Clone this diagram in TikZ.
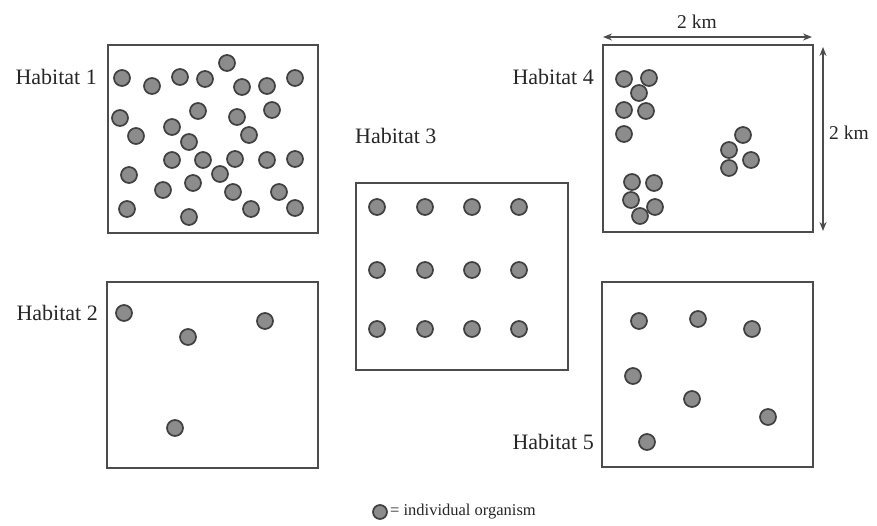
\documentclass[tikz,border=0pt]{standalone}
\usepackage{fontspec}
\setmainfont{Liberation Serif}
\usetikzlibrary{arrows.meta}
\begin{document}
\begin{tikzpicture}[x=1pt,y=-1pt,
  habbox/.style={draw=black!70,line width=2pt},
  dot/.style={circle,draw=black!75,fill=black!45,line width=1.7pt,minimum size=16pt,inner sep=0pt},
  lbl/.style={font=\fontsize{22}{26}\selectfont,text=black!85,inner sep=0pt},
  small/.style={font=\fontsize{16.5}{19}\selectfont,text=black!85,inner sep=0pt},
  dim/.style={draw=black!70,line width=1.3pt,{Stealth[length=9pt,width=7pt]}-{Stealth[length=9pt,width=7pt]}}]
\useasboundingbox (0,0) rectangle (877,526);
% boxes
\draw[habbox] (108,45) rectangle (318,233);
\draw[habbox] (107,282) rectangle (318,468);
\draw[habbox] (356,183) rectangle (568,370);
\draw[habbox] (603,45) rectangle (813,232);
\draw[habbox] (602,282) rectangle (813,467);
% labels
\node[lbl,anchor=east] (l1) at (97,77) {Habitat 1};
\node[lbl,anchor=east] (l2) at (98,313) {Habitat 2};
\node[lbl,anchor=west] (l3) at (355,136) {Habitat 3};
\node[lbl,anchor=east] (l4) at (594,77) {Habitat 4};
\node[lbl,anchor=east] (l5) at (594,442) {Habitat 5};
% habitat 1 dots
\foreach \p [count=\i] in {(122,78),(152,86),(180,77),(205,79),(227,63),(242,87),(267,86),(295,78),
  (120,118),(198,111),(237,117),(272,110),(136,136),(172,127),(249,135),(189,142),
  (172,160),(203,160),(235,159),(267,160),(295,159),(129,175),(220,174),(193,183),
  (163,190),(233,192),(279,192),(127,209),(251,209),(295,208),(189,217)}
  \node[dot] (a\i) at \p {};
% habitat 2 dots
\foreach \p [count=\i] in {(124,313),(188,337),(265,321),(175,428)}
  \node[dot] (b\i) at \p {};
% habitat 3 dots
\foreach \y [count=\j] in {207,270,329}
  \foreach \x [count=\i] in {377,425,472,519}
    \node[dot] (c\j\i) at (\x,\y) {};
% habitat 4 dots
\foreach \p [count=\i] in {(624,79),(649,78),(639,93),(624,110),(646,111),(624,134),
  (743,135),(729,150),(751,160),(729,168),
  (632,182),(654,183),(631,200),(655,207),(640,216)}
  \node[dot] (d\i) at \p {};
% habitat 5 dots
\foreach \p [count=\i] in {(639,321),(698,319),(752,329),(633,376),(692,399),(768,417),(647,442)}
  \node[dot] (e\i) at \p {};
% dimensions
\coordinate (hx1) at (603,37);
\coordinate (hx2) at (812,37);
\coordinate (vy1) at (823,47);
\coordinate (vy2) at (823,231);
\draw[dim] (hx1) -- (hx2);
\draw[dim] (vy1) -- (vy2);
\node[lbl,font=\fontsize{19.5}{23}\selectfont] (kmh) at (697,22) {2 km};
\node[lbl,font=\fontsize{19.5}{23}\selectfont,anchor=west] (kmv) at (829,133) {2 km};
% legend
\node[dot,minimum size=14pt] (leg) at (380,512) {};
\node[small,anchor=west] (legt) at (390,512) {= individual organism};
\end{tikzpicture}
\end{document}
